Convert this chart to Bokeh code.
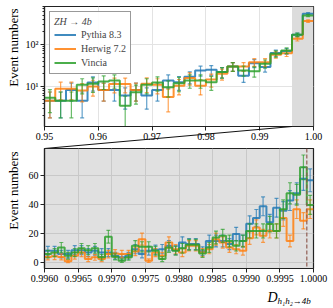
import numpy as np
from bokeh.plotting import figure
from bokeh.layouts import column
from bokeh.models import (FixedTicker, BoxAnnotation, Span, Legend, LegendItem, NumeralTickFormatter)
from bokeh.core.properties import value
from bokeh.embed import file_html
from bokeh.resources import INLINE

FONT = "Liberation Serif"

series_names = ["Pythia 8.3", "Herwig 7.2", "Vincia"]
colors = ["#1f77b4", "#ff7f0e", "#2ca02c"]
legend_title = "ZH \u2192 4b"

# ---- top panel: 25 bins on [0.95, 1.00]
top_lo, top_hi, top_nbins = 0.95, 1.00, 25
top_pythia = [4.6, 4.6, 8.3, 4.6, 12.4, 8.3, 8.3, 6.1, 8.3, 6.1, 8.3, 14, 12.7, 17, 24, 25, 22, 30, 18, 36, 29, 63, 69, 170, 540]
top_pythia_err = [2.8, 2.8, 3.8, 2.8, 4.6, 3.8, 3.8, 3.2, 3.8, 3.2, 3.8, 4.9, 4.6, 5.4, 6.4, 6.5, 6.1, 7.1, 5.5, 7.8, 7.0, 10.3, 10.8, 17, 30]
top_herwig = [4.6, 8.8, 8.8, 8.0, 10, 8.3, 11.5, 11.5, 8.3, 11.6, 11, 5.6, 10.5, 16, 10.5, 14.7, 20, 30, 30, 38, 38, 57, 62, 136, 360]
top_herwig_err = [2.8, 3.9, 3.9, 3.7, 4.1, 3.8, 4.4, 4.4, 3.8, 4.4, 4.3, 3.1, 4.2, 5.2, 4.2, 5.0, 5.8, 7.1, 7.1, 8.0, 8.0, 9.8, 10.3, 15.2, 24.7]
top_vincia = [5.4, 4.6, 4.6, 11, 11.6, 13.2, 14, 3.5, 7.3, 11, 12.4, 9.6, 12, 14, 14, 12.7, 22, 30, 24, 23, 35, 60, 72, 170, 490]
top_vincia_err = [3.0, 2.8, 2.8, 4.3, 4.4, 4.7, 4.9, 2.4, 3.5, 4.3, 4.6, 4.0, 4.5, 4.9, 4.9, 4.6, 6.1, 7.1, 6.4, 6.3, 7.7, 10.1, 11, 17, 28.9]

# ---- bottom (zoomed) panel: 40 bins on [0.996, 1.000]
zoom_lo, zoom_hi, zoom_nbins = 0.996, 1.000, 40
bot_pythia = [8.3, 8.3, 6, 6, 8.7, 8.7, 7, 8.3, 7, 7, 4.8, 3.7, 4.8, 9.4, 6, 8.3, 9, 9.4, 11.7, 8.7,
              14, 12.9, 12.9, 8, 15, 15, 15, 12.9, 19.8, 15, 27, 31, 39, 28, 38, 36, 43, 48, 58, 57]
bot_pythia_err = [3.0, 3.0, 2.6, 2.6, 3.1, 3.1, 2.8, 3.0, 2.8, 2.8, 2.3, 2.0, 2.3, 3.2, 2.6, 3.0, 3.1, 3.2, 3.6, 3.1,
                  3.9, 3.8, 3.8, 3.0, 4.1, 4.1, 4.1, 3.8, 4.7, 4.1, 5.4, 5.8, 6.5, 5.5, 6.5, 6.3, 6.9, 7.3, 8.0, 7.9]
bot_herwig = [4, 4.4, 4, 1, 4.8, 7, 2.5, 3.7, 2.5, 6, 6.4, 6, 6, 7.8, 16.3, 1.4, 7, 4.8, 14, 9.4,
              7, 11.7, 11.7, 7, 9.4, 16.3, 14, 10.6, 9.4, 8.3, 17, 24.4, 18.6, 22, 22, 31, 15, 37, 29, 37]
bot_herwig_err = [2.1, 2.2, 2.1, 1.0, 2.3, 2.8, 1.7, 2.0, 1.7, 2.6, 2.7, 2.6, 2.6, 2.9, 4.2, 1.2, 2.8, 2.3, 3.9, 3.2,
                  2.8, 3.6, 3.6, 2.8, 3.2, 4.2, 3.9, 3.4, 3.2, 3.0, 4.3, 5.2, 4.5, 4.9, 4.9, 5.8, 4.1, 6.4, 5.6, 6.4]
bot_vincia = [6, 7, 10.6, 4.8, 7, 10, 8.7, 10, 3.7, 18, 4.1, 1.4, 3.7, 11.7, 11, 11, 8.3, 2.5, 10.6, 8.3,
              10, 12.4, 12.4, 6.4, 10.6, 17.5, 18.6, 15, 11.7, 15, 22, 22, 22, 26.7, 22, 37, 48, 47, 66, 40]
bot_vincia_err = [2.6, 2.8, 3.4, 2.3, 2.8, 3.3, 3.1, 3.3, 2.0, 4.4, 2.1, 1.2, 2.0, 3.6, 3.5, 3.5, 3.0, 1.7, 3.4, 3.0,
                  3.3, 3.7, 3.7, 2.7, 3.4, 4.4, 4.5, 4.1, 3.6, 4.1, 4.9, 4.9, 4.9, 5.4, 4.9, 6.4, 7.3, 7.2, 8.5, 6.6]

cut_value = 0.9999

top_xticks = [0.95, 0.96, 0.97, 0.98, 0.99, 1.00]
top_xtick_labels = ["0.95", "0.96", "0.97", "0.98", "0.99", "1.00"]
top_yticks = [10, 100]
top_ytick_labels = ["10\u00b9", "10\u00b2"]
top_yminor = [2, 3, 4, 5, 6, 7, 8, 9, 20, 30, 40, 50, 60, 70, 80, 90, 200, 300, 400, 500, 600, 700, 800]
bot_xticks = [0.996, 0.9965, 0.997, 0.9975, 0.998, 0.9985, 0.999, 0.9995, 1.0]
bot_xtick_labels = ["0.9960", "0.9965", "0.9970", "0.9975", "0.9980", "0.9985", "0.9990", "0.9995", "1.0000"]
bot_yticks = [0, 20, 40, 60]
ylabel = "Event numbers"
xlabel_main = "D"
xlabel_sub = "h\u2081h\u2082\u21924b"

top_yrange = (1.12, 800)
bot_yrange = (-4, 79)

W = 333
LEFT, RIGHT = 44, 20
FRAME_W = W - LEFT - RIGHT
TOP_BORDER, TOP_FRAME_H, GAP = 6, 120, 22
BOT_FRAME_H, BOT_BORDER = 120, 40


def style(p):
    p.outline_line_color = "#222222"
    p.outline_line_width = 1.2
    for ax in (p.xaxis, p.yaxis):
        ax.axis_line_color = "#222222"
        ax.axis_line_width = 1.2
        ax.major_tick_in = 0
        ax.major_tick_out = 4
        ax.minor_tick_in = 0
        ax.minor_tick_out = 2
        ax.major_label_text_font = FONT
        ax.major_label_text_font_size = "10px"
        ax.major_label_text_color = "black"
        ax.major_label_standoff = 2
        ax.major_tick_line_color = "#222222"
        ax.minor_tick_line_color = "#222222"


def draw_hist(p, lo, hi, nb, vals, errs, color):
    edges = np.linspace(lo, hi, nb + 1)
    vals = np.asarray(vals, dtype=float)
    errs = np.asarray(errs, dtype=float)
    centers = (edges[:-1] + edges[1:]) / 2
    ylo, yhi = vals - errs, vals + errs
    p.segment(x0=centers, y0=ylo, x1=centers, y1=yhi, line_color=color, line_width=1.2, line_alpha=0.7)
    p.scatter(x=np.r_[centers, centers], y=np.r_[ylo, yhi], marker="dash", size=4,
              line_color=color, line_width=1.2, line_alpha=0.7)
    r = p.step(x=edges, y=np.r_[vals, vals[-1]], mode="after", line_color=color,
               line_width=2, line_alpha=0.85)
    return r


# pixel offsets -> data units (for decorations outside the frame)
def xoff(lo, hi, px):
    return (hi - lo) * px / FRAME_W


# ---------------- top figure
p_top = figure(width=W, height=TOP_BORDER + TOP_FRAME_H + GAP, x_range=(top_lo, top_hi), y_range=top_yrange,
               y_axis_type="log", output_backend="svg", toolbar_location=None,
               min_border_left=LEFT, min_border_right=RIGHT, min_border_top=TOP_BORDER, min_border_bottom=GAP)
style(p_top)
p_top.xaxis.ticker = FixedTicker(ticks=top_xticks, minor_ticks=[])
p_top.xaxis.formatter = NumeralTickFormatter(format="0.00")
p_top.xaxis.major_label_overrides = dict(zip(top_xticks, top_xtick_labels))
p_top.yaxis.ticker = FixedTicker(ticks=top_yticks, minor_ticks=top_yminor)
p_top.yaxis.major_label_overrides = dict(zip(top_yticks, top_ytick_labels))
p_top.grid.grid_line_color = "#e3e3e3"
p_top.grid.grid_line_width = 1

p_top.add_layout(BoxAnnotation(left=zoom_lo, right=zoom_hi, fill_color="#dcdcdc", fill_alpha=1.0,
                               line_color=None, level="underlay"))

items = []
for name, col, v, e in zip(series_names, colors, [top_pythia, top_herwig, top_vincia],
                           [top_pythia_err, top_herwig_err, top_vincia_err]):
    r = draw_hist(p_top, top_lo, top_hi, top_nbins, v, e, col)
    cr = p_top.scatter(x=[], y=[], marker="cross", size=8, line_color=col, line_width=1.5, line_alpha=0.8)
    items.append(LegendItem(label=name, renderers=[r, cr]))

legend = Legend(items=items, location="top_left", title=legend_title,
                title_text_font=FONT, title_text_font_style="italic", title_text_font_size="10px",
                label_text_font=FONT, label_text_font_size="10px", label_height=13,
                glyph_width=22, glyph_height=13, spacing=1, padding=4, margin=5,
                label_standoff=5, title_standoff=1,
                border_line_color="#333333", border_line_width=1, background_fill_alpha=0.9)
p_top.add_layout(legend)

# y label of top panel (outside the frame, overlay level)
top_dec = np.log10(top_yrange[1] / top_yrange[0])
top_ylab_y = top_yrange[0] * 10 ** (79 / (TOP_FRAME_H / top_dec))
p_top.text(x=[top_lo - xoff(top_lo, top_hi, 31)], y=[top_ylab_y], text=[ylabel], angle=np.pi / 2,
           text_font=value(FONT), text_font_size="13px", text_align="center", text_baseline="middle",
           text_color="black", level="overlay")

# connector from zoom window to lower panel
y_conn = top_yrange[0] / 10 ** (GAP / (TOP_FRAME_H / top_dec))
p_top.segment(x0=[zoom_lo], y0=[top_yrange[0]], x1=[top_lo], y1=[y_conn],
              line_color="#111111", line_width=1, level="overlay")

# ---------------- bottom figure
p_bot = figure(width=W, height=BOT_FRAME_H + BOT_BORDER, x_range=(zoom_lo, zoom_hi), y_range=bot_yrange,
               output_backend="svg", toolbar_location=None, background_fill_color="#e0e0e0",
               min_border_left=LEFT, min_border_right=RIGHT, min_border_top=0, min_border_bottom=BOT_BORDER)
style(p_bot)
p_bot.xaxis.ticker = FixedTicker(ticks=bot_xticks, minor_ticks=[])
p_bot.xaxis.formatter = NumeralTickFormatter(format="0.0000")
p_bot.xaxis.major_label_overrides = dict(zip(bot_xticks, bot_xtick_labels))
p_bot.yaxis.ticker = FixedTicker(ticks=bot_yticks, minor_ticks=[])
p_bot.grid.grid_line_color = "#c8c8c8"
p_bot.grid.grid_line_width = 1

for col, v, e in zip(colors, [bot_pythia, bot_herwig, bot_vincia], [bot_pythia_err, bot_herwig_err, bot_vincia_err]):
    draw_hist(p_bot, zoom_lo, zoom_hi, zoom_nbins, v, e, col)

p_bot.add_layout(Span(location=cut_value, dimension="height", line_color="#8c564b", line_alpha=0.75,
                      line_width=1.5, line_dash="4 2"))

yper = (bot_yrange[1] - bot_yrange[0]) / BOT_FRAME_H
p_bot.text(x=[zoom_lo - xoff(zoom_lo, zoom_hi, 31)], y=[bot_yrange[0] + 78 * yper], text=[ylabel],
           angle=np.pi / 2, text_font=value(FONT), text_font_size="13px", text_align="center",
           text_baseline="middle", text_color="black", level="overlay")
p_bot.text(x=[zoom_hi - xoff(zoom_lo, zoom_hi, 36)], y=[bot_yrange[0] - 29 * yper], text=[xlabel_main],
           text_font=value(FONT), text_font_style="italic", text_font_size="14px", text_align="right",
           text_baseline="alphabetic", text_color="black", level="overlay")
p_bot.text(x=[zoom_hi - xoff(zoom_lo, zoom_hi, 36)], y=[bot_yrange[0] - 32 * yper], text=[xlabel_sub],
           text_font=value(FONT), text_font_style="italic", text_font_size="9px", text_align="left",
           text_baseline="alphabetic", text_color="black", level="overlay")

layout = column(p_top, p_bot, spacing=0)
open("out.html", "w").write(file_html(layout, INLINE))
